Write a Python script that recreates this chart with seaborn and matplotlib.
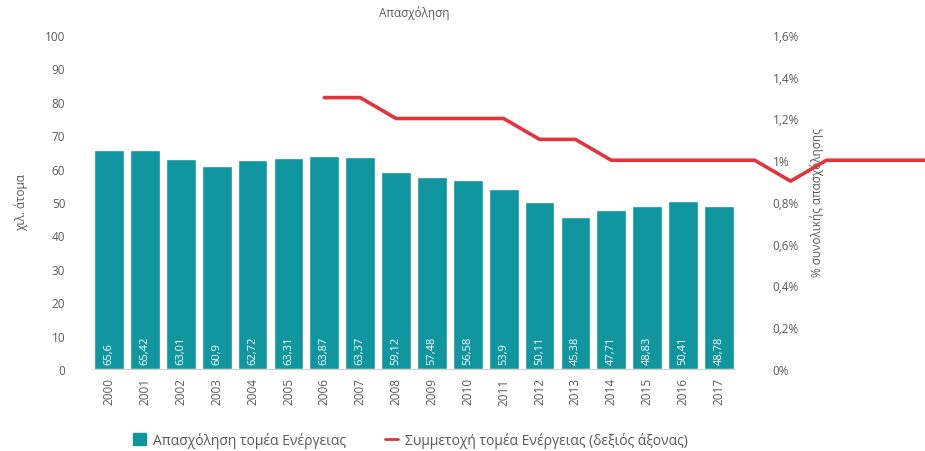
import matplotlib
matplotlib.use("Agg")
import matplotlib.pyplot as plt
import seaborn as sns
import pandas as pd
import numpy as np

# Employment in the energy sector (thousand persons) per year
years = list(range(2000, 2018))
employment = [65.6, 65.42, 63.01, 60.9, 62.72, 63.31, 63.87, 63.37, 59.12,
              57.48, 56.58, 53.9, 50.11, 45.38, 47.71, 48.83, 50.41, 48.78]

# Share of the energy sector in total employment (%), right axis
share_years = list(range(2006, 2024))
share = [1.3, 1.3, 1.2, 1.2, 1.2, 1.2, 1.1, 1.1, 1.0, 1.0, 1.0, 1.0,
         1.0, 0.9, 1.0, 1.0, 1.0, 1.0]

left_ticks = list(range(0, 101, 10))
right_ticks = [0, 0.2, 0.4, 0.6, 0.8, 1.0, 1.2, 1.4, 1.6]

title = "Απασχόληση"
left_label = "χιλ. άτομα"
right_label = "% συνολικής απασχόλησης"
bar_legend = "Απασχόληση τομέα Ενέργειας"
line_legend = "Συμμετοχή τομέα Ενέργειας (δεξιός άξονας)"

teal = "#11959f"
red = "#e0353d"
grey = "#595959"

sns.set_theme(style="white")
plt.rcParams["font.family"] = ["Open Sans", "DejaVu Sans"]

fig = plt.figure(figsize=(9.25, 4.52), dpi=100)
ax = fig.add_axes([93 / 925, 1 - 370 / 452, (735 - 93) / 925, (370 - 36) / 452])

df = pd.DataFrame({"year": [str(y) for y in years], "value": employment})
sns.barplot(data=df, x="year", y="value", color=teal, saturation=1,
            width=0.83, ax=ax)
ax.set_xlim(-0.45, len(years) - 0.55)
ax.set_ylim(0, 100)
ax.set_yticks(left_ticks)
ax.set_yticklabels([str(t) for t in left_ticks], fontsize=8.5, color=grey)
ax.tick_params(axis="y", length=0, pad=20)
ax.tick_params(axis="x", length=0, pad=6, labelrotation=90, labelsize=8.5,
               labelcolor=grey)
ax.set_xlabel("")
ax.set_ylabel(left_label, fontsize=8.5, color=grey, labelpad=12)
for s in ["top", "right", "left"]:
    ax.spines[s].set_visible(False)
ax.spines["bottom"].set_color("#d0d0d0")
ax.spines["bottom"].set_linewidth(0.8)

# Value labels inside the foot of each bar
for patch, v in zip(ax.patches, employment):
    cx = patch.get_x() + patch.get_width() / 2
    ax.text(cx, 1.6, f"{v:g}".replace(".", ","), rotation=90, ha="center",
            va="bottom", color="white", fontsize=8)

ax.set_title(title, fontsize=8.5, color=grey, pad=14)

ax2 = ax.twinx()
ldf = pd.DataFrame({"pos": [y - years[0] for y in share_years], "share": share})
sns.lineplot(data=ldf, x="pos", y="share", color=red, linewidth=2.6, ax=ax2,
             clip_on=False)
ax2.set_ylim(0, 1.6)
ax2.set_xlim(-0.45, len(years) - 0.55)
ax2.set_yticks(right_ticks)
ax2.set_yticklabels([f"{t:g}".replace(".", ",") + "%" for t in right_ticks],
                    fontsize=8.5, color=grey)
ax2.tick_params(axis="y", length=0, pad=27)
ax2.set_ylabel(right_label, fontsize=8.5, color=grey, rotation=90)
ax2.yaxis.set_label_coords((810 - 93) / (735 - 93), 0.5)
ax2.set_xlabel("")
for s in ["top", "right", "left", "bottom"]:
    ax2.spines[s].set_visible(False)

# Legend row beneath the chart
handles = [plt.Rectangle((0, 0), 1, 1, color=teal),
           plt.Line2D([0], [0], color=red, linewidth=2)]
fig.legend(handles, [bar_legend, line_legend], loc="center left",
           bbox_to_anchor=(120 / 925, 1 - 441 / 452), ncol=2, frameon=False,
           fontsize=10, labelcolor=grey, handlelength=1.0, handleheight=0.9,
           columnspacing=2.8, handletextpad=0.45)

fig.savefig("out.png", dpi=100)
